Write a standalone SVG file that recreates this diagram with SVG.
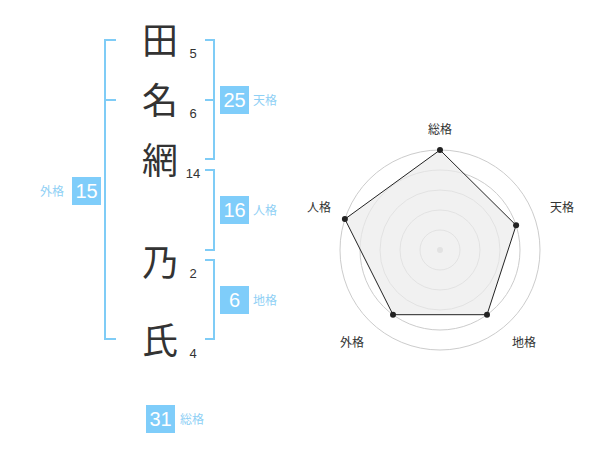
<svg xmlns="http://www.w3.org/2000/svg" width="600" height="470" viewBox="0 0 600 470">
<style>
.ch{font-family:"Noto Sans CJK JP","Noto Sans CJK SC",sans-serif;font-size:36px;fill:#333;text-anchor:middle}
.num{font-family:"Liberation Sans",Arial,sans-serif;font-size:13px;fill:#333;text-anchor:middle}
.br{fill:none;stroke:#7fccf6;stroke-width:2}
.box{fill:#7fcdfa}
.bt{font-family:"Liberation Sans",Arial,sans-serif;font-size:20px;fill:#fff;text-anchor:middle}
.lb{font-family:"Noto Sans CJK JP","Noto Sans CJK SC",sans-serif;font-size:12px;fill:#8fd0f5}
.rl{font-family:"Noto Sans CJK JP","Noto Sans CJK SC",sans-serif;font-size:12px;fill:#333;text-anchor:middle}
.ring{fill:none;stroke:#ccc;stroke-width:1}
</style>
<rect width="600" height="470" fill="#fff"/>
<g id="chars">
<text class="ch" x="160" y="54">田</text>
<text class="ch" x="160" y="114">名</text>
<text class="ch" x="160" y="174">網</text>
<text class="ch" x="160" y="276">乃</text>
<text class="ch" x="160" y="354">氏</text>
<text class="num" x="193" y="58">5</text>
<text class="num" x="193" y="118">6</text>
<text class="num" x="193" y="178">14</text>
<text class="num" x="193" y="278">2</text>
<text class="num" x="193" y="358">4</text>
</g>
<g id="connectors">
<path class="br" d="M116,40 H105 V339 H116 M105,100 H116"/>
<path class="br" d="M205,40 H214 V159 H205 M205,100 H214"/>
<path class="br" d="M205,170 H214 V250 H205"/>
<path class="br" d="M205,260 H214 V339 H205"/>
</g>
<g id="tenkaku">
<rect class="box" x="220" y="86" width="29" height="28"/>
<text class="bt" x="234.5" y="107">25</text>
<text class="lb" x="253" y="105">天格</text>
</g>
<g id="jinkaku">
<rect class="box" x="220" y="196" width="29" height="28"/>
<text class="bt" x="234.5" y="217">16</text>
<text class="lb" x="253" y="215">人格</text>
</g>
<g id="chikaku">
<rect class="box" x="220" y="286" width="29" height="28"/>
<text class="bt" x="234.5" y="307">6</text>
<text class="lb" x="253" y="305">地格</text>
</g>
<g id="gaikaku">
<rect class="box" x="72" y="177" width="29" height="28"/>
<text class="bt" x="86.5" y="198">15</text>
<text class="lb" x="40" y="196">外格</text>
</g>
<g id="soukaku">
<rect class="box" x="146" y="405" width="29" height="28"/>
<text class="bt" x="160.5" y="426">31</text>
<text class="lb" x="180" y="424">総格</text>
</g>
<g id="radar">
<circle class="ring" cx="440" cy="250" r="20"/>
<circle class="ring" cx="440" cy="250" r="40"/>
<circle class="ring" cx="440" cy="250" r="60"/>
<circle class="ring" cx="440" cy="250" r="80"/>
<circle class="ring" cx="440" cy="250" r="100"/>
<circle cx="440" cy="250" r="3" fill="#ccc"/>
<polygon points="440,150 516.1,225.3 487,314.7 393,314.7 344.9,219.1" fill="#ebebeb" fill-opacity="0.7" stroke="#222" stroke-width="1"/>
<g fill="#222">
<circle cx="440" cy="150" r="3"/>
<circle cx="516.1" cy="225.3" r="3"/>
<circle cx="487" cy="314.7" r="3"/>
<circle cx="393" cy="314.7" r="3"/>
<circle cx="344.9" cy="219.1" r="3"/>
</g>
<text class="rl" x="440" y="134">総格</text>
<text class="rl" x="562" y="212">天格</text>
<text class="rl" x="524" y="347">地格</text>
<text class="rl" x="352" y="347">外格</text>
<text class="rl" x="319" y="212">人格</text>
</g>
</svg>
